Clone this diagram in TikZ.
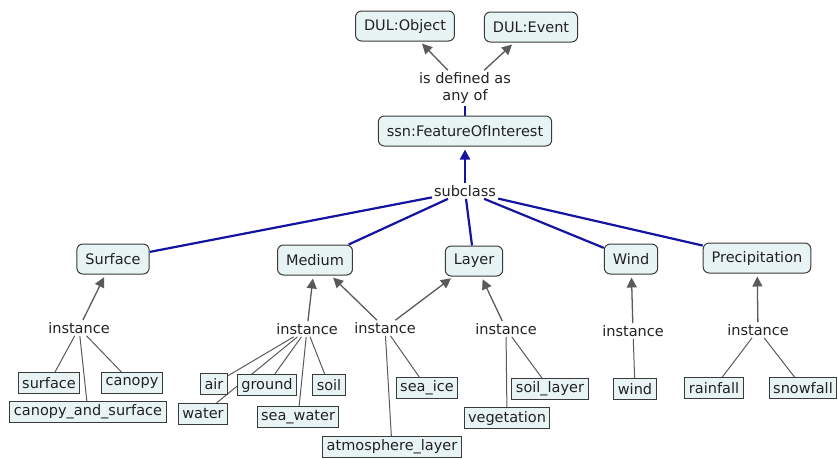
\documentclass[tikz,border=0pt]{standalone}
\usepackage{fontspec}
\setmainfont{DejaVu Sans}
\usetikzlibrary{arrows.meta,backgrounds}
\definecolor{boxfill}{HTML}{E8F3F3}
\definecolor{boxline}{HTML}{3A3A3A}
\definecolor{linkgrey}{HTML}{5A5A5A}
\definecolor{subblue}{HTML}{1414A0}
\definecolor{ink}{HTML}{222222}

\begin{document}
\begin{tikzpicture}[x=1pt,y=-1pt,
  every node/.style={font=\fontsize{14.5}{17}\selectfont, text=ink},
  concept/.style={draw=boxline, fill=boxfill, rounded corners=6pt, line width=1pt,
    minimum height=30pt, inner xsep=8.5pt, inner ysep=0pt},
  leaf/.style={draw=boxline, fill=boxfill, line width=1pt,
    minimum height=21pt, inner xsep=4pt, inner ysep=0pt},
  phrase/.style={inner sep=2pt, align=center},
  isa/.style={draw=linkgrey, line width=1.3pt, -{Triangle[length=10pt,width=10pt]}, shorten >=3pt},
  member/.style={draw=linkgrey, line width=1pt},
  sub/.style={draw=subblue, line width=2.2pt},
  subarrow/.style={sub, -{Triangle[length=10pt,width=10pt]}, shorten >=3pt},
]
\useasboundingbox (0,0) rectangle (838,458);

% upper ontology
\node[concept] (dobj) at (405,26) {DUL:Object};
\node[concept] (devt) at (531,27) {DUL:Event};
\node[phrase]  (def)  at (465,88) {is defined as\\any of};
\node[concept] (foi)  at (465,131) {ssn:FeatureOfInterest};
\node[phrase]  (subc) at (465,191) {subclass};

% feature classes
\node[concept] (surface) at (113,259) {Surface};
\node[concept] (medium)  at (315,260) {Medium};
\node[concept] (layer)   at (474,261) {Layer};
\node[concept] (wind)    at (631,259) {Wind};
\node[concept] (precip)  at (757,258) {Precipitation};

% instance phrases
\node[phrase] (iS) at (79,328)  {instance};
\node[phrase] (iM) at (307,329) {instance};
\node[phrase] (iX) at (385,328) {instance};
\node[phrase] (iL) at (506,329) {instance};
\node[phrase] (iW) at (633,331) {instance};
\node[phrase] (iP) at (758,330) {instance};

% individuals
\node[leaf] (lsurface) at (49,383)  {surface};
\node[leaf] (lcanopy)  at (132,383) {canopy};
\node[leaf] (lcas)     at (88,412)  {canopy\_and\_surface};
\node[leaf] (lair)     at (214,384) {air};
\node[leaf] (lground)  at (267,385) {ground};
\node[leaf] (lwater)   at (203,414) {water};
\node[leaf] (lseaw)    at (298,417) {sea\_water};
\node[leaf] (lsoil)    at (329,385) {soil};
\node[leaf] (lseaice)  at (427,388) {sea\_ice};
\node[leaf] (latmos)   at (392,447) {atmosphere\_layer};
\node[leaf] (lveg)     at (507,418) {vegetation};
\node[leaf] (lsoill)   at (550,389) {soil\_layer};
\node[leaf] (lwind)    at (635,389) {wind};
\node[leaf] (lrain)    at (714,388) {rainfall};
\node[leaf] (lsnow)    at (803,388) {snowfall};

\begin{scope}[on background layer]
  % definition links
  \draw[isa] (def) -- (dobj);
  \draw[isa] (def) -- (devt);
  \draw[sub] (foi) -- (def);
  % subclass links
  \draw[subarrow] (subc) -- (foi);
  \foreach \c in {surface,medium,layer,wind,precip}
    \draw[sub] (subc) -- (\c);
  % instance-of links
  \draw[isa] (iS) -- (surface);
  \draw[isa] (iM) -- (medium);
  \draw[isa] (iX) -- (medium);
  \draw[isa] (iX) -- (layer);
  \draw[isa] (iL) -- (layer);
  \draw[isa] (iW) -- (wind);
  \draw[isa] (iP) -- (precip);
  % members
  \foreach \m in {lsurface,lcanopy,lcas} \draw[member] (iS) -- (\m);
  \foreach \m in {lair,lground,lwater,lseaw,lsoil} \draw[member] (iM) -- (\m);
  \foreach \m in {lseaice,latmos} \draw[member] (iX) -- (\m);
  \foreach \m in {lveg,lsoill} \draw[member] (iL) -- (\m);
  \draw[member] (iW) -- (lwind);
  \foreach \m in {lrain,lsnow} \draw[member] (iP) -- (\m);
\end{scope}
\end{tikzpicture}
\end{document}
